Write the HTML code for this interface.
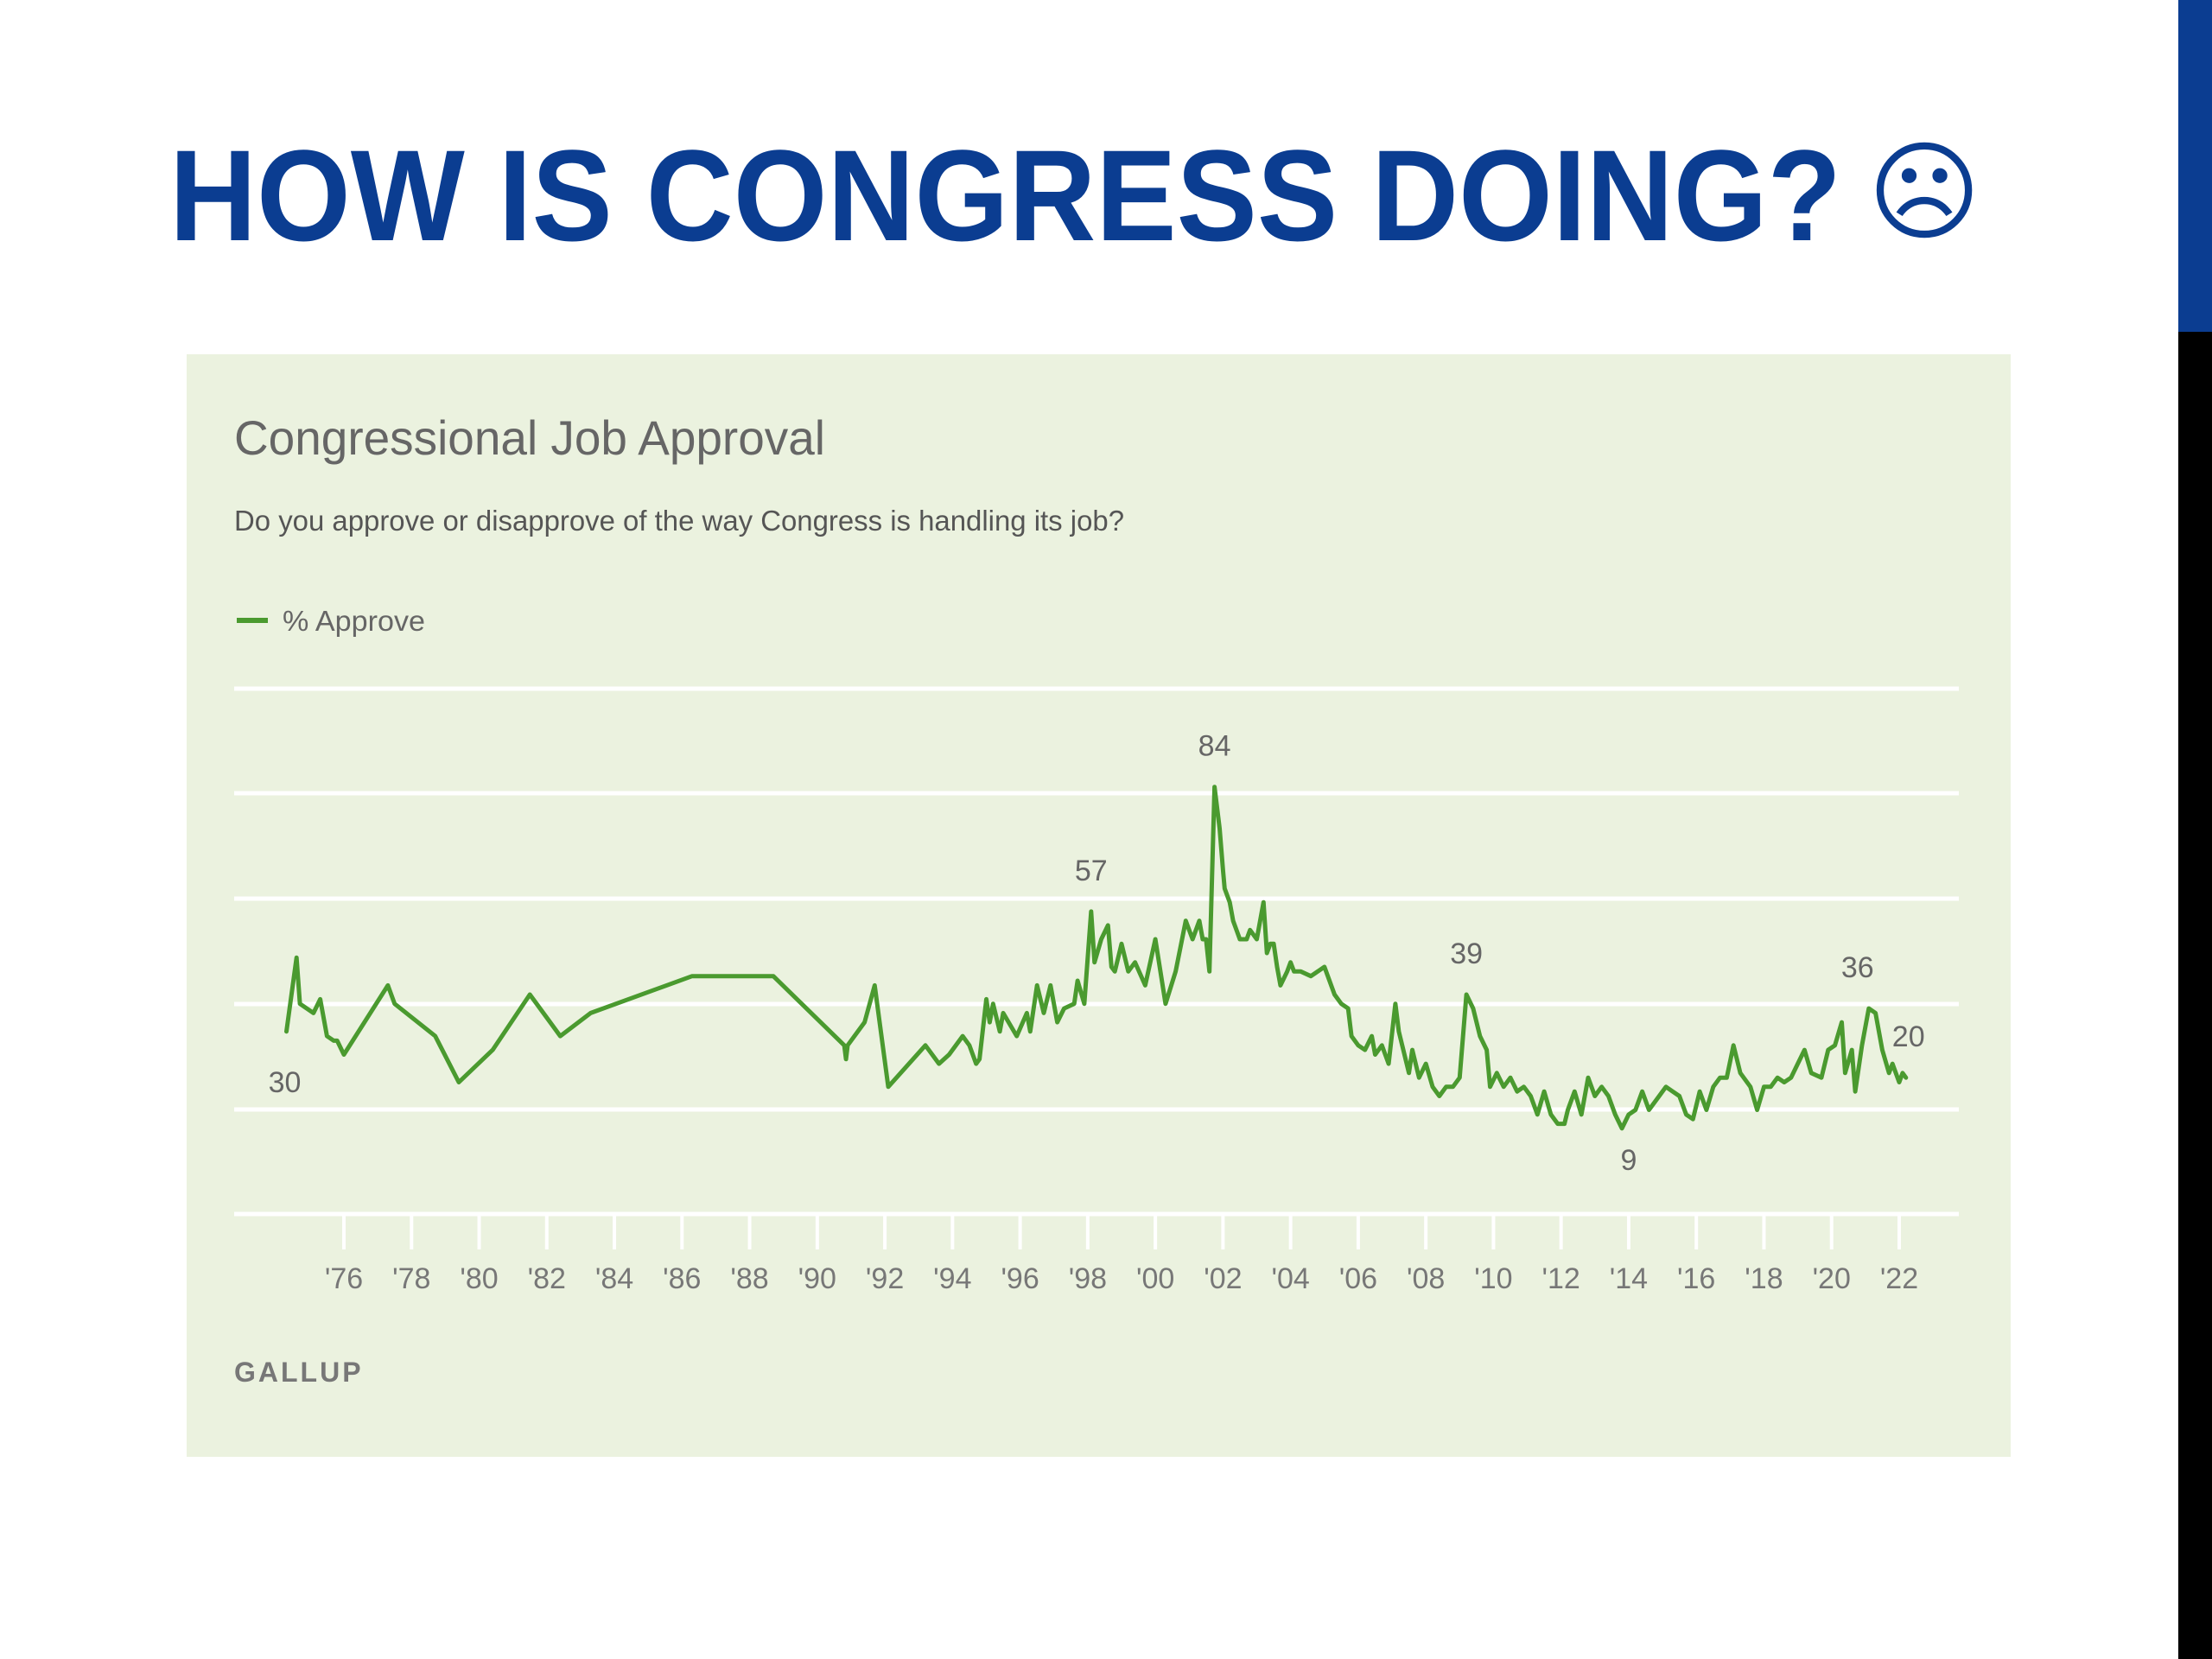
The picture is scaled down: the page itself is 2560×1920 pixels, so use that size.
<!DOCTYPE html>
<html><head><meta charset="utf-8"><style>
html,body{margin:0;padding:0;background:#fff;width:2560px;height:1920px;overflow:hidden}
svg{display:block}
</style></head><body>
<svg id="s" width="2560" height="1920" viewBox="0 0 2560 1920" xmlns="http://www.w3.org/2000/svg">
<rect x="0" y="0" width="2560" height="1920" fill="#fff"/>
<rect x="2521" y="0" width="39" height="384" fill="#0b3d91"/>
<rect x="2521" y="384" width="39" height="1536" fill="#000"/>
<text x="196" y="278" font-family="Liberation Sans, sans-serif" font-weight="bold" font-size="150" fill="#0b3d91" textLength="1935" lengthAdjust="spacingAndGlyphs">HOW IS CONGRESS DOING?</text>
<text x="2227" y="266" text-anchor="middle" font-family="DejaVu Sans, sans-serif" font-size="126" fill="#0b3d91">☹</text>
<rect x="216" y="410" width="2111" height="1276" fill="#ebf2df"/>
<text x="271" y="526" font-family="Liberation Sans, sans-serif" font-size="56" fill="#666" textLength="684" lengthAdjust="spacingAndGlyphs">Congressional Job Approval</text>
<text x="271" y="614" font-family="Liberation Sans, sans-serif" font-size="33" fill="#555" textLength="1030" lengthAdjust="spacingAndGlyphs">Do you approve or disapprove of the way Congress is handling its job?</text>
<line x1="274" y1="718" x2="310" y2="718" stroke="#4a9a2f" stroke-width="6"/>
<text x="327" y="730" font-family="Liberation Sans, sans-serif" font-size="33" fill="#666" textLength="165" lengthAdjust="spacingAndGlyphs">% Approve</text>
<g id="grid"></g>
<g id="xaxis"></g>
<g id="series"></g>
<g id="ann"></g>
<text x="271" y="1599" font-family="Liberation Sans, sans-serif" font-weight="bold" font-size="32" fill="#777" letter-spacing="3">GALLUP</text>
</svg>
<script>
const years = [1974.3,1974.6,1974.7,1975.1,1975.3,1975.5,1975.7,1975.8,1976.0,1977.3,1977.5,1978.7,1979.4,1980.4,1981.5,1982.4,1983.3,1986.3,1988.7,1990.8,1990.85,1990.9,1991.4,1991.7,1992.1,1993.2,1993.6,1993.9,1994.3,1994.5,1994.7,1994.8,1995.0,1995.1,1995.2,1995.4,1995.5,1995.9,1996.2,1996.3,1996.5,1996.7,1996.9,1997.1,1997.3,1997.6,1997.7,1997.9,1998.1,1998.2,1998.4,1998.6,1998.7,1998.8,1999.0,1999.2,1999.4,1999.7,2000.0,2000.3,2000.6,2000.9,2001.1,2001.3,2001.4,2001.5,2001.6,2001.75,2001.9,2002.0,2002.05,2002.2,2002.3,2002.4,2002.5,2002.7,2002.8,2003.0,2003.2,2003.3,2003.4,2003.5,2003.6,2003.7,2003.9,2004.0,2004.1,2004.3,2004.6,2005.0,2005.3,2005.5,2005.7,2005.8,2006.0,2006.2,2006.4,2006.5,2006.7,2006.9,2007.1,2007.2,2007.3,2007.5,2007.6,2007.8,2008.0,2008.2,2008.4,2008.6,2008.8,2009.0,2009.2,2009.4,2009.6,2009.8,2009.9,2010.1,2010.3,2010.5,2010.7,2010.9,2011.1,2011.3,2011.5,2011.7,2011.9,2012.1,2012.2,2012.4,2012.6,2012.8,2013.0,2013.2,2013.4,2013.6,2013.8,2014.0,2014.2,2014.4,2014.6,2014.9,2015.1,2015.3,2015.5,2015.7,2015.9,2016.1,2016.3,2016.5,2016.7,2016.9,2017.1,2017.3,2017.6,2017.8,2018.0,2018.2,2018.4,2018.6,2018.8,2019.0,2019.2,2019.4,2019.7,2019.9,2020.1,2020.3,2020.4,2020.6,2020.7,2020.9,2021.1,2021.3,2021.5,2021.7,2021.8,2022.0,2022.1,2022.2];
const approve = [31,47,37,35,38,30,29,29,26,41,37,30,20,27,39,30,35,43,43,28,25,28,33,41,19,28,24,26,30,28,24,25,38,33,37,31,35,30,35,31,41,35,41,33,36,37,42,37,57,46,51,54,45,44,50,44,46,41,51,37,44,55,51,55,51,51,44,84,75,66,62,59,55,53,51,51,53,51,59,48,50,50,45,41,44,46,44,44,43,45,39,37,36,30,28,27,30,26,28,24,37,31,28,22,27,21,24,19,17,19,19,21,39,36,30,27,19,22,19,21,18,19,17,13,18,13,11,11,14,18,13,21,17,19,17,13,10,13,14,18,14,17,19,18,17,13,12,18,14,19,21,21,28,22,19,14,19,19,21,20,21,24,27,22,21,27,28,33,22,27,18,28,36,35,27,22,24,20,22,21];
const tickYears = [1976,1978,1980,1982,1984,1986,1988,1990,1992,1994,1996,1998,2000,2002,2004,2006,2008,2010,2012,2014,2016,2018,2020,2022];
const tickLabels = ["'76","'78","'80","'82","'84","'86","'88","'90","'92","'94","'96","'98","'00","'02","'04","'06","'08","'10","'12","'14","'16","'18","'20","'22"];
const annotIdx = [0,48,67,112,137,172,179];
const annotText = ["30","57","84","39","9","36","20"];
const annotPos = ["below","above","above","above","below","above","right"];

const NS="http://www.w3.org/2000/svg";
function xs(yr){return 398+(yr-1976)*39.13;}
function ys(v){return 1359.3-5.34*v;}
function mk(tag,attrs,parent){const e=document.createElementNS(NS,tag);for(const k in attrs)e.setAttribute(k,attrs[k]);parent.appendChild(e);return e;}

const grid=document.getElementById('grid');
const gridY=[797,918,1040,1162,1284,1405];
gridY.forEach((gy,i)=>{
  const l=mk('line',{x1:271,x2:2267,y1:gy,y2:gy,stroke:'#fff','stroke-width':5},grid);
  
  
});
const xa=document.getElementById('xaxis');
tickYears.forEach((t,i)=>{
  const x=xs(t);
  const l=mk('line',{x1:x,x2:x,y1:1405,y2:1446,stroke:'#fff','stroke-width':4},xa);
  
  
  const tx=mk('text',{x:x,y:1491,'text-anchor':'middle','font-family':'Liberation Sans, sans-serif','font-size':34,fill:'#777'},xa);
  tx.textContent=tickLabels[i];
  
  
});
const ser=document.getElementById('series');
const d=years.map((y,i)=>(i?'L':'M')+xs(y).toFixed(1)+','+ys(approve[i]).toFixed(1)).join(' ');
const p=mk('path',{d:d,fill:'none',stroke:'#4a9a2f','stroke-width':5,'stroke-linejoin':'round','stroke-linecap':'round'},ser);


const ann=document.getElementById('ann');
annotIdx.forEach((idx,i)=>{
  let x=xs(years[idx]), y=ys(approve[idx]);
  const pos=annotPos[i];
  if(pos==='above'){y-=36;} else if(pos==='below'){y+=64;} else {x-=16;y-=36;}
  if(i===0){x-=2;y+=6;}
  if(i===5){x-=13;}
  const t=mk('text',{x:x,y:y,'text-anchor':pos==='right'?'start':'middle','font-family':'Liberation Sans, sans-serif','font-size':34,fill:'#666'},ann);
  t.textContent=annotText[i];
  
  
});
</script>
</body></html>
